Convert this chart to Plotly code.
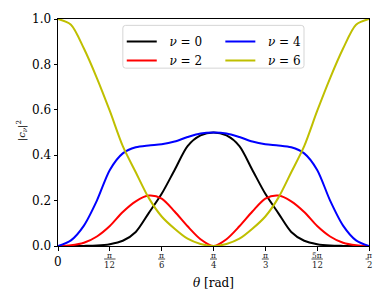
import math
import plotly.graph_objects as go

# theta grid (rad), steps of pi/48 from 0 to pi/2
theta = [k * math.pi / 48 for k in range(25)]

nu0 = [0, 0, 0.0005, 0.002, 0.008, 0.023, 0.062, 0.145, 0.23, 0.335, 0.44, 0.487, 0.5,
       0.487, 0.44, 0.335, 0.23, 0.145, 0.062, 0.023, 0.008, 0.002, 0.0005, 0, 0]
nu2 = [0, 0.003, 0.014, 0.042, 0.088, 0.15, 0.197, 0.222, 0.209, 0.152, 0.087, 0.03, 0,
       0.03, 0.087, 0.152, 0.209, 0.222, 0.197, 0.15, 0.088, 0.042, 0.014, 0.003, 0]
nu4 = [0, 0.025, 0.09, 0.2, 0.335, 0.408, 0.435, 0.443, 0.448, 0.46, 0.48, 0.496, 0.5,
       0.496, 0.48, 0.46, 0.448, 0.443, 0.435, 0.408, 0.335, 0.2, 0.09, 0.025, 0]
nu6 = [1.0, 0.975, 0.87, 0.74, 0.595, 0.44, 0.325, 0.212, 0.13, 0.076, 0.032, 0.009, 0,
       0.009, 0.032, 0.076, 0.13, 0.212, 0.325, 0.44, 0.595, 0.74, 0.87, 0.975, 1.0]

series = [("0", nu0, "#000000", "legend"), ("2", nu2, "#ff0000", "legend"),
          ("4", nu4, "#0000ff", "legend2"), ("6", nu6, "#bfbf00", "legend2")]

xtick_vals = [0, math.pi / 12, math.pi / 6, math.pi / 4, math.pi / 3, 5 * math.pi / 12, math.pi / 2]
xtick_num = ["0", "π", "π", "π", "π", "5π", "π"]
xtick_den = ["", "12", "6", "4", "3", "12", "2"]
ytick_vals = [0, 0.2, 0.4, 0.6, 0.8, 1.0]
ytick_text = ["0.0", "0.2", "0.4", "0.6", "0.8", "1.0"]

FONT = "DejaVu Serif"
NBSP = "\u00a0"

fig = go.Figure()
for lab, vals, col, lg in series:
    fig.add_trace(go.Scatter(x=theta, y=vals, mode="lines",
                             line=dict(color=col, width=2, shape="spline", smoothing=0.8),
                             name=NBSP * 2 + "<i>ν</i> = " + lab, legend=lg))

ann = []
shapes = []
for v, n, d in zip(xtick_vals, xtick_num, xtick_den):
    if d == "":
        ann.append(dict(x=v, y=0, xref="x", yref="paper", text=n, showarrow=False,
                        yanchor="middle", yshift=-15.5,
                        font=dict(family=FONT, size=12, color="black")))
    else:
        ann.append(dict(x=v, y=0, xref="x", yref="paper", text=n, showarrow=False,
                        yanchor="middle", yshift=-9.5, borderpad=0,
                        font=dict(family=FONT, size=7.5, color="#222")))
        ann.append(dict(x=v, y=0, xref="x", yref="paper", text=d, showarrow=False,
                        yanchor="middle", yshift=-18.5, borderpad=0,
                        font=dict(family=FONT, size=8.5, color="#222")))
        hw = 2.2 * len(d) + 1.3
        shapes.append(dict(type="line", xref="x", xsizemode="pixel", xanchor=v,
                           x0=-hw, x1=hw, yref="paper", ysizemode="pixel", yanchor=0,
                           y0=-13, y1=-13, line=dict(color="#222", width=0.8)))
ann.append(dict(x=0.5, y=0, xref="paper", yref="paper", text="<i>θ</i> [rad]",
                showarrow=False, yanchor="middle", yshift=-37,
                font=dict(family=FONT, size=12, color="black")))
ann.append(dict(x=0, y=0.506, xref="paper", yref="paper", xshift=-45,
                text="|<i>c</i><sub><i>ν</i></sub>|<sup>2</sup>", textangle=-90,
                showarrow=False, font=dict(family=FONT, size=10, color="black")))

# legend frame (rounded rectangle in paper coords)
x0, x1, y0, y1 = 0.2085, 0.791, 0.7835, 0.972
rx, ry = 0.009, 0.012
path = (f"M{x0+rx},{y1} L{x1-rx},{y1} Q{x1},{y1} {x1},{y1-ry} L{x1},{y0+ry} "
        f"Q{x1},{y0} {x1-rx},{y0} L{x0+rx},{y0} Q{x0},{y0} {x0},{y0+ry} "
        f"L{x0},{y1-ry} Q{x0},{y1} {x0+rx},{y1} Z")
shapes.append(dict(type="path", path=path, xref="paper", yref="paper", layer="above",
                   line=dict(color="#d5d5d5", width=1), fillcolor="rgba(255,255,255,0.85)"))

fig.update_layout(
    width=382, height=301,
    margin=dict(l=58, r=13, t=15, b=55),
    paper_bgcolor="white", plot_bgcolor="white",
    font=dict(family=FONT, color="black"),
    xaxis=dict(range=[0, math.pi / 2], tickvals=xtick_vals, showticklabels=False,
               ticks="outside", ticklen=3.5, tickwidth=1, tickcolor="black",
               showline=True, linecolor="black", linewidth=1, mirror=True,
               showgrid=False, zeroline=False),
    yaxis=dict(range=[0, 1], tickvals=ytick_vals, ticktext=ytick_text,
               ticks="outside", ticklen=3.5, tickwidth=1, tickcolor="black",
               tickfont=dict(family=FONT, size=12, color="black"),
               showline=True, linecolor="black", linewidth=1, mirror=True,
               showgrid=False, zeroline=False),
    legend=dict(x=0.205, y=0.965, xanchor="left", yanchor="top", bgcolor="rgba(0,0,0,0)",
                font=dict(family=FONT, size=12, color="black")),
    legend2=dict(x=0.522, y=0.965, xanchor="left", yanchor="top", bgcolor="rgba(0,0,0,0)",
                 font=dict(family=FONT, size=12, color="black")),
    shapes=shapes,
    annotations=ann,
)
fig.write_html("out.html", config={"displayModeBar": False},
               post_script="document.body.style.margin='0';document.body.style.padding='0';")
